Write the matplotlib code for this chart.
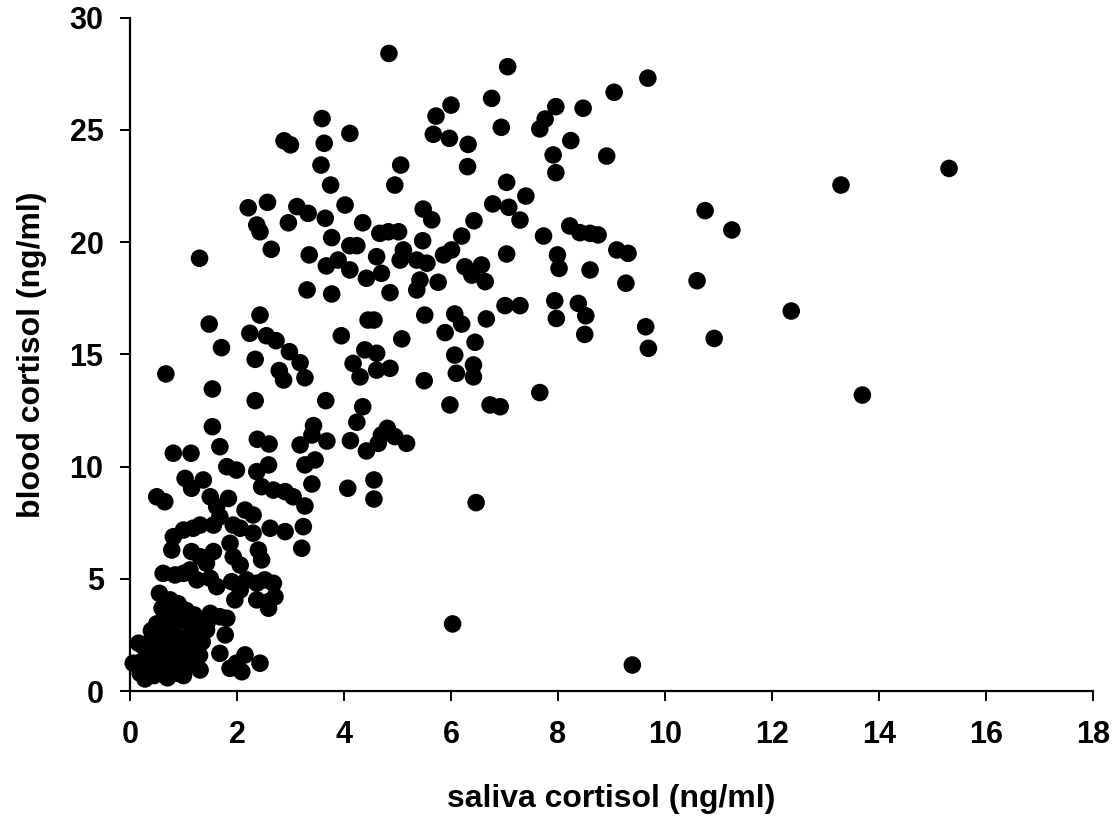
import matplotlib
matplotlib.use("Agg")
import matplotlib.pyplot as plt

plt.rcParams['font.family'] = ['Liberation Sans', 'DejaVu Sans']
plt.rcParams['font.weight'] = 'bold'

# saliva cortisol (ng/ml)
saliva = [
    # upper left
    2.88, 3.0, 3.59, 3.63,
    3.57, 3.75, 2.21, 2.57, 3.12, 3.33, 2.96, 2.37, 2.43, 3.65, 4.02, 4.35,
    3.77, 4.11, 4.24, 2.64, 1.30, 3.35, 3.67, 3.89, 4.11, 4.42, 3.31, 3.77,
    2.43, 1.48, 1.71, 2.24, 2.55, 2.73, 2.98, 3.18, 3.27, 2.79, 2.87, 2.34,
    0.67, 1.54, 2.34, 3.66, 3.95, 4.45, 4.17, 4.30, 4.39, 4.35,
    # middle
    5.06, 4.95, 6.31, 6.32, 7.91, 7.96, 7.04, 7.40, 6.78, 7.08, 7.29, 5.48,
    5.64, 6.43, 4.67, 4.83, 5.02, 5.47, 6.20, 7.73, 8.22, 8.41, 8.60, 8.75,
    5.11, 5.05, 5.36, 5.55, 4.61, 4.70, 5.86, 6.01, 6.26, 6.57, 6.39, 6.64,
    7.04, 7.99, 8.02, 8.60, 5.42, 5.36, 5.76, 4.86, 7.01, 7.29, 7.94, 8.38,
    8.52, 7.97, 8.50, 4.56, 5.51, 6.07, 6.20, 6.66, 5.89, 6.45, 5.08, 4.61,
    4.61, 4.86, 6.07, 6.10, 6.42, 6.42, 5.50, 7.66, 5.98, 6.73, 6.92,
    # right side
    13.29, 10.75, 11.25, 9.10, 9.31, 9.27, 10.60, 12.36, 9.64, 9.69, 10.92,
    13.69, 15.31, 9.39,
    # top
    4.84, 7.06, 9.68, 9.05, 6.76, 6.0, 5.72, 5.67, 5.97, 6.94, 7.96, 7.76,
    7.66, 8.47, 8.24, 8.91, 4.11,
    # 8-13 ng/ml blood band
    4.24, 3.43, 3.40, 3.68, 3.18, 4.12, 4.42, 4.81, 4.70, 4.95, 5.17, 4.64,
    3.46, 3.27, 3.40, 4.07, 4.56, 4.56, 6.47, 3.27, 3.24, 3.21, 6.03,
    # lower left
    1.54, 1.68, 0.81, 1.14, 2.38, 2.60, 1.81, 1.99, 2.37, 2.59, 1.03, 1.15,
    1.37, 1.50, 2.46, 2.68, 2.90, 3.05, 0.50, 0.65, 1.62, 1.84, 2.15, 2.30,
    1.68, 1.56, 1.31, 1.93, 2.06, 2.30, 2.62, 2.90, 0.81, 1.00, 1.18, 0.78,
    1.15, 1.31, 1.43, 1.56, 1.87, 1.93, 2.06, 2.40, 2.46, 0.62, 0.84, 1.00,
    1.12, 1.25, 1.50, 1.62, 1.90, 2.18, 2.37, 2.06, 2.52, 2.68, 0.55, 0.75,
    1.96, 2.37, 2.59, 2.71, 2.59, 1.50, 1.68, 1.81, 1.25, 1.43, 1.78, 1.68,
    1.87, 1.99, 2.15, 2.43, 2.09, 1.31, 0.16, 0.06, 0.19, 0.28,
    # dense cluster near origin
    0.30, 0.45, 0.60, 0.75, 0.90, 1.05, 1.20, 0.35, 0.50, 0.65, 0.80, 0.95,
    1.10, 1.30, 0.25, 0.40, 0.55, 0.70, 0.85, 1.00, 1.15, 1.35, 0.50, 0.65,
    0.80, 0.95, 1.10, 0.60, 0.75, 0.90, 1.05, 1.20, 0.45, 0.20, 0.70, 1.00,
    0.55, 0.85, 1.25, 0.40, 1.45,
]

# blood cortisol (ng/ml)
blood = [
    24.51, 24.33, 25.5, 24.4,
    23.43, 22.54, 21.53, 21.77, 21.58, 21.28, 20.86, 20.76, 20.46, 21.06, 21.65, 20.86,
    20.2, 19.84, 19.84, 19.68, 19.28, 19.43, 18.94, 19.2, 18.76, 18.39, 17.87, 17.69,
    16.75, 16.35, 15.3, 15.94, 15.83, 15.61, 15.12, 14.63, 13.96, 14.28, 13.86, 14.78,
    14.13, 13.46, 12.94, 12.94, 15.83, 16.53, 14.6, 14.0, 15.2, 12.67,
    23.43, 22.54, 23.36, 24.35, 23.88, 23.09, 22.66, 22.05, 21.7, 21.55, 20.98, 21.47,
    20.99, 20.95, 20.39, 20.46, 20.46, 20.06, 20.27, 20.27, 20.72, 20.42, 20.39, 20.32,
    19.65, 19.2, 19.2, 19.06, 19.35, 18.61, 19.43, 19.65, 18.9, 18.98, 18.53, 18.24,
    19.47, 19.43, 18.83, 18.76, 18.31, 17.87, 18.21, 17.75, 17.17, 17.17, 17.39, 17.27,
    16.72, 16.6, 15.89, 16.53, 16.75, 16.8, 16.35, 16.58, 15.97, 15.54, 15.69, 15.05,
    14.3, 14.38, 14.97, 14.16, 14.53, 14.0, 13.83, 13.3, 12.75, 12.75, 12.67,
    22.54, 21.4, 20.54, 19.65, 19.5, 18.17, 18.28, 16.93, 16.23, 15.27, 15.71,
    13.19, 23.28, 1.17,
    28.4, 27.81, 27.3, 26.67, 26.4, 26.1, 25.61, 24.8, 24.62, 25.11, 26.03, 25.48,
    25.04, 25.96, 24.52, 23.83, 24.84,
    11.98, 11.83, 11.41, 11.14, 10.97, 11.16, 10.7, 11.71, 11.41, 11.34, 11.04, 11.04,
    10.3, 10.08, 9.23, 9.04, 9.41, 8.56, 8.4, 8.25, 7.33, 6.37, 3.0,
    11.78, 10.89, 10.6, 10.6, 11.22, 11.01, 10.0, 9.85, 9.78, 10.08, 9.48, 9.04,
    9.41, 8.66, 9.11, 8.96, 8.89, 8.66, 8.66, 8.44, 8.22, 8.59, 8.07, 7.85,
    7.77, 7.4, 7.4, 7.4, 7.26, 7.04, 7.26, 7.11, 6.88, 7.18, 7.26, 6.29,
    6.22, 5.99, 5.70, 6.22, 6.59, 5.99, 5.62, 6.29, 5.85, 5.25, 5.18, 5.25,
    5.40, 4.96, 5.03, 4.66, 4.88, 4.96, 4.81, 4.51, 4.96, 4.81, 4.36, 4.07,
    4.07, 4.07, 3.99, 4.21, 3.7, 3.47, 3.32, 3.25, 2.88, 2.73, 2.51, 1.69,
    1.02, 1.25, 1.62, 1.25, 0.87, 0.95, 2.14, 1.25, 0.80, 0.55,
    1.0, 0.7, 0.9, 1.2, 0.8, 1.1, 1.3, 1.5, 1.8, 1.4, 1.7, 1.5,
    1.9, 1.6, 2.0, 2.3, 2.6, 2.2, 2.5, 2.2, 2.6, 2.2, 3.0, 3.3,
    2.9, 3.2, 3.0, 3.7, 3.6, 3.9, 3.6, 3.4, 1.2, 1.3, 0.6, 0.7,
    2.0, 2.0, 2.0, 2.7, 3.1,
]

x_ticks = list(range(0, 19, 2))
y_ticks = list(range(0, 31, 5))

fig = plt.figure(figsize=(11.14, 8.18), dpi=100)
ax = fig.add_axes([0.1167, 0.1549, 0.8644, 0.8237])

ax.scatter(saliva, blood, s=160, color='black', edgecolors='none', clip_on=False)

ax.set_xlim(0, 18)
ax.set_ylim(0, 30)
ax.set_xticks(x_ticks)
ax.set_yticks(y_ticks)

for side in ['top', 'right']:
    ax.spines[side].set_visible(False)
for side in ['left', 'bottom']:
    ax.spines[side].set_linewidth(1.6)

ax.tick_params(axis='both', direction='out', length=7, width=1.4, labelsize=22)
ax.tick_params(axis='x', pad=14)
ax.tick_params(axis='y', pad=12)

ax.set_xlabel('saliva cortisol (ng/ml)', fontsize=23, fontweight='bold', labelpad=24)
ax.set_ylabel('blood cortisol (ng/ml)', fontsize=23, fontweight='bold', labelpad=16)

fig.savefig('out.png', dpi=100)
